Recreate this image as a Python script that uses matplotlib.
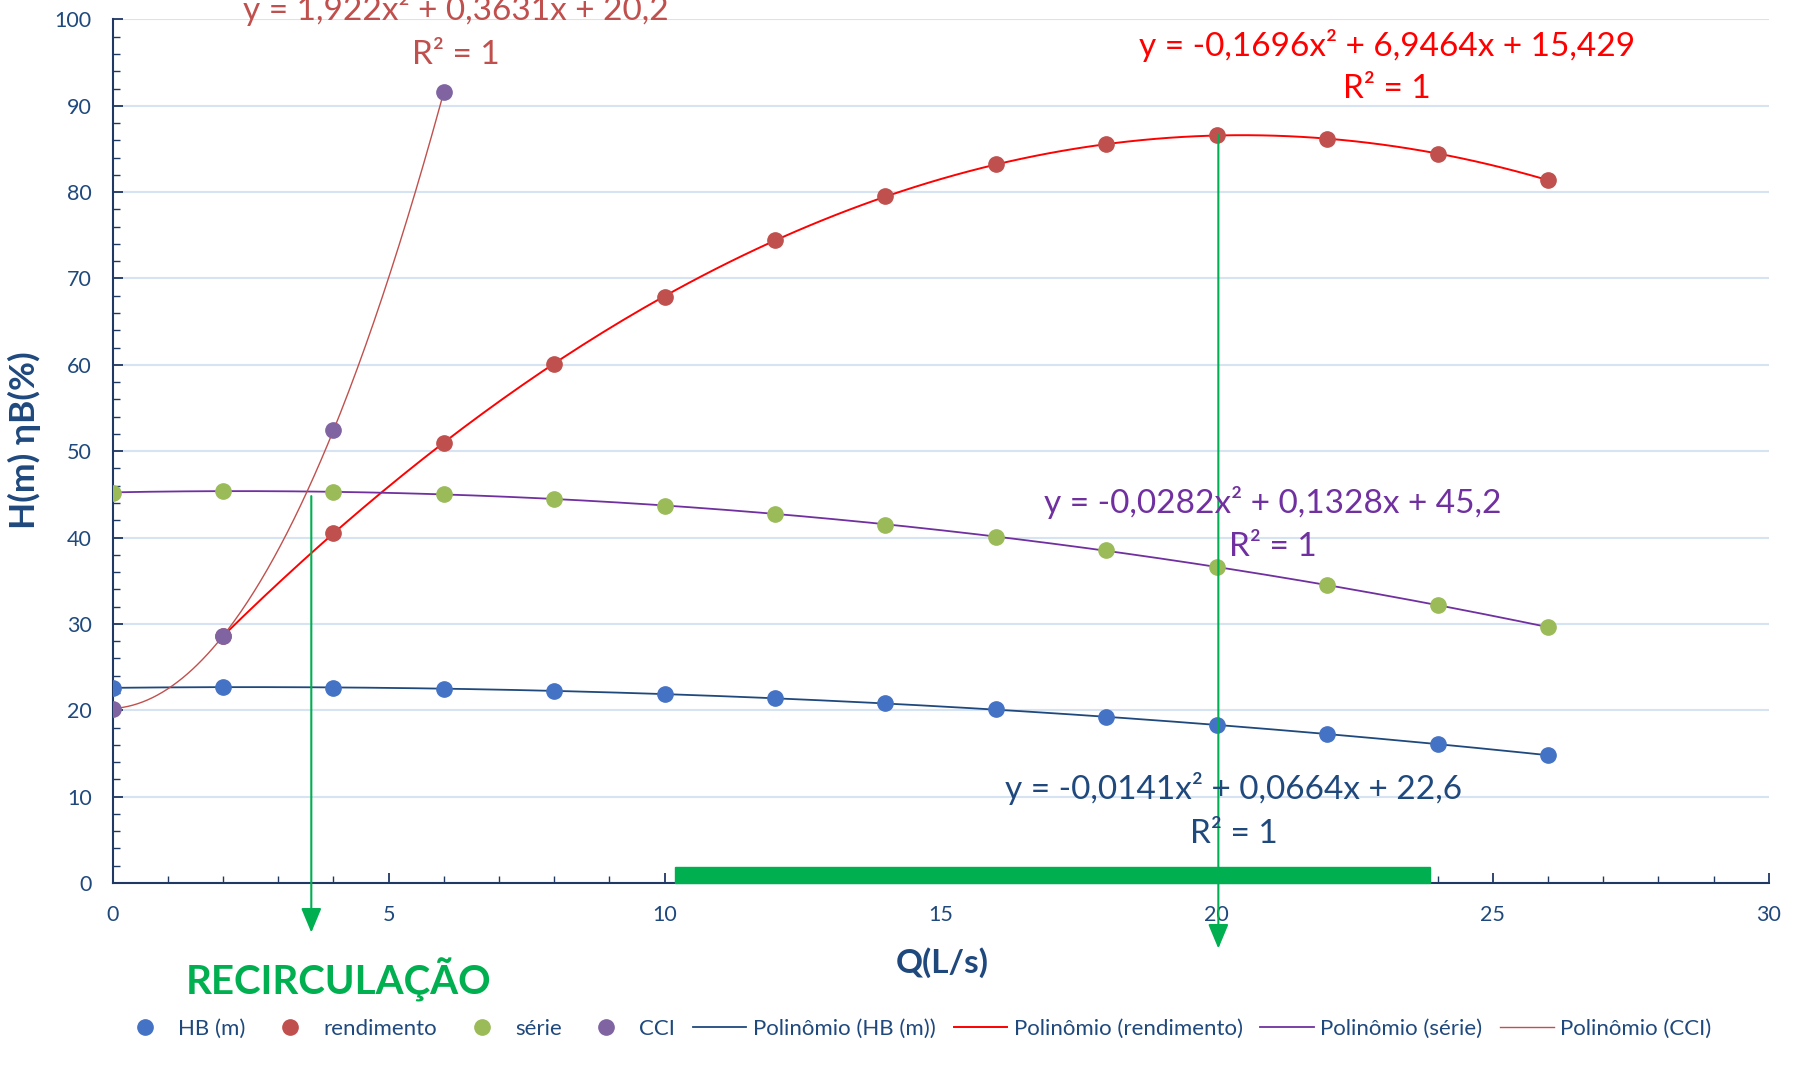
import numpy as np
import matplotlib
matplotlib.use("Agg")
import matplotlib.pyplot as plt
from matplotlib.patches import Rectangle
from matplotlib.ticker import MultipleLocator

plt.rcParams['font.family'] = ['Lato', 'DejaVu Sans']

# data
q_full = [0, 2, 4, 6, 8, 10, 12, 14, 16, 18, 20, 22, 24, 26]
hb = [22.6, 22.7, 22.6, 22.5, 22.2, 21.9, 21.4, 20.8, 20.1, 19.2, 18.3, 17.2, 16.1, 14.8]
serie = [45.2, 45.4, 45.3, 45.0, 44.5, 43.7, 42.7, 41.5, 40.1, 38.5, 36.6, 34.5, 32.2, 29.6]
q_rend = [2, 4, 6, 8, 10, 12, 14, 16, 18, 20, 22, 24, 26]
rendimento = [28.6, 40.5, 51.0, 60.1, 67.9, 74.4, 79.5, 83.2, 85.6, 86.6, 86.2, 84.4, 81.4]
q_cci = [0, 2, 4, 6]
cci = [20.2, 28.6, 52.4, 91.6]

eq_cci = ["y = 1,922x² + 0,3631x + 20,2", "R² = 1"]
eq_rend = ["y = -0,1696x² + 6,9464x + 15,429", "R² = 1"]
eq_serie = ["y = -0,0282x² + 0,1328x + 45,2", "R² = 1"]
eq_hb = ["y = -0,0141x² + 0,0664x + 22,6", "R² = 1"]

# annotations: recirculation arrow, operating point arrow, operating band
arrow_recirc = (3.6, 44.8, -5.75)
arrow_oper = (20.03, 86.6, -7.6)
band = (10.19, 23.86, 1.86)

navy = '#1F497D'
green = '#00B050'

fig = plt.figure(figsize=(18.01, 10.67), dpi=100)
ax = fig.add_axes([0.0625, 0.1725, 0.9196, 0.8093])

def trend(x, y, lw, color, label):
    coef = np.polyfit(x, y, 2)
    xs = np.linspace(min(x), max(x), 200)
    ax.plot(xs, np.polyval(coef, xs), color=color, lw=lw, label=label, zorder=3)

ms = 11
ax.plot(q_full, hb, 'o', ls='none', color='#4472C4', ms=ms, label='HB (m)', zorder=4)
ax.plot(q_rend, rendimento, 'o', ls='none', color='#C0504D', ms=ms, label='rendimento', zorder=4)
ax.plot(q_full, serie, 'o', ls='none', color='#9BBB59', ms=ms, label='série', zorder=4)
ax.plot(q_cci, cci, 'o', ls='none', color='#8064A2', ms=ms, label='CCI', zorder=4)

trend(q_full, hb, 1.3, '#1F497D', 'Polinômio (HB (m))')
trend(q_rend, rendimento, 1.4, '#FF0000', 'Polinômio (rendimento)')
trend(q_full, serie, 1.3, '#7030A0', 'Polinômio (série)')
trend(q_cci, cci, 1.0, '#C0504D', 'Polinômio (CCI)')

# green band and arrows
ax.add_patch(Rectangle((band[0], 0), band[1] - band[0], band[2], color=green, zorder=5, clip_on=False))
for xa, ytop, ytip in [arrow_recirc, arrow_oper]:
    ax.annotate('', xy=(xa, ytip), xytext=(xa, ytop),
                arrowprops=dict(arrowstyle='-|>,head_length=0.6,head_width=0.25',
                                color=green, lw=1.5, mutation_scale=25,
                                shrinkA=0, shrinkB=0),
                annotation_clip=False, zorder=6)

# equation labels
eq_fs = 24
for lines, xc, y1, y2, col in [(eq_cci, 6.22, 101.2, 95.9, '#C0504D'),
                               (eq_rend, 23.09, 97.0, 92.0, '#FF0000'),
                               (eq_serie, 21.02, 44.0, 38.9, '#7030A0'),
                               (eq_hb, 20.31, 10.9, 5.7, navy)]:
    ax.text(xc, y1, lines[0], color=col, fontsize=eq_fs, ha='center', va='center', zorder=7)
    ax.text(xc, y2, lines[1], color=col, fontsize=eq_fs, ha='center', va='center', zorder=7)

ax.set_xlim(0, 30)
ax.set_ylim(0, 100)
ax.xaxis.set_major_locator(MultipleLocator(5))
ax.xaxis.set_minor_locator(MultipleLocator(1))
ax.yaxis.set_major_locator(MultipleLocator(10))
ax.yaxis.set_minor_locator(MultipleLocator(2))
ax.grid(axis='y', which='major', color='#D6E3F2', lw=1.5, zorder=0)
ax.set_axisbelow(True)

for s in ['top', 'right']:
    ax.spines[s].set_visible(False)
for s in ['left', 'bottom']:
    ax.spines[s].set_color('#1F3864')
    ax.spines[s].set_linewidth(1.5)

ax.tick_params(which='both', direction='in', colors='#1F3864', labelcolor=navy, labelsize=15.5)
ax.tick_params(which='major', length=7, width=1.3)
ax.tick_params(which='minor', length=5, width=1.0)
ax.tick_params(axis='y', pad=15)
ax.tick_params(axis='x', pad=16)

fig.text(0.0135, 0.587, 'H(m) ηB(%)', rotation=90, fontsize=25.5, fontweight='bold',
         color=navy, ha='center', va='center')
fig.text(0.523, 0.098, 'Q(L/s)', fontsize=24, fontweight='bold', color=navy,
         ha='center', va='center')
fig.text(0.188, 0.0815, 'RECIRCULAÇÃO', fontsize=29, fontweight='bold', color=green,
         ha='center', va='center')

fig.legend(loc='center', bbox_to_anchor=(0.508, 0.036), ncol=8, frameon=False,
           fontsize=16, labelcolor=navy, handlelength=2.4, handletextpad=0.3,
           columnspacing=0.8)

fig.savefig('out.png', dpi=100)
